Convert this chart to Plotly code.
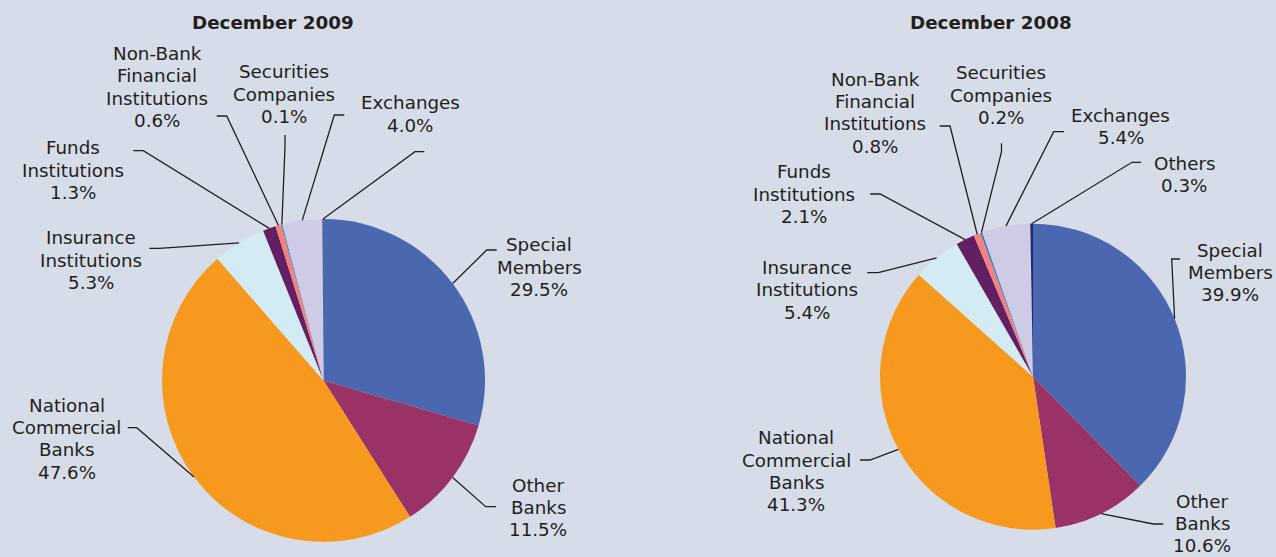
import math
import plotly.graph_objects as go

W, H = 1276, 557

# Holder categories, in clockwise order from 12 o'clock
categories = [
    "Special Members",
    "Other Banks",
    "National Commercial Banks",
    "Insurance Institutions",
    "Funds Institutions",
    "Non-Bank Financial Institutions",
    "Securities Companies",
    "Exchanges",
    "Others",
]
share_2009 = [29.5, 11.5, 47.6, 5.3, 1.3, 0.6, 0.1, 4.0, 0.1]
share_2008 = [39.9, 10.6, 41.3, 5.4, 2.1, 0.8, 0.2, 5.4, 0.3]
titles = ["December 2009", "December 2008"]

# How each category name is broken over lines
label_lines = [
    ["Special", "Members"],
    ["Other", "Banks"],
    ["National", "Commercial", "Banks"],
    ["Insurance", "Institutions"],
    ["Funds", "Institutions"],
    ["Non-Bank", "Financial", "Institutions"],
    ["Securities", "Companies"],
    ["Exchanges"],
    ["Others"],
]
show_label_2009 = [True, True, True, True, True, True, True, True, False]
show_label_2008 = [True] * 9

colors = ["#4a67b0", "#993366", "#f7991f", "#d3ecf3", "#621f62",
          "#f3827f", "#2b7bc8", "#cecbe7", "#1f2b6c"]

BG = "#d7dce9"
INK = "#231f20"
FONT = "DejaVu Sans"
FS = 18.3
LINE_GAP = 22.4

# Pie placement (pixel centre and radius)
pies = [
    dict(cx=323.5, cy=380.5, r=161.5, values=share_2009, show=show_label_2009,
         title_x=273.0),
    dict(cx=1033.0, cy=376.7, r=153.0, values=share_2008, show=show_label_2008,
         title_x=990.5),
]

# Label layout per pie: text centre x, first-line y, tick end, knee of leader
layouts = [
    [
        (539, 245.0, (496.7, 250.0), (486.7, 250.0)),
        (538, 485.0, (496.0, 506.7), (485.7, 506.7)),
        (66.7, 405.0, (127.7, 427.7), (136.7, 427.7)),
        (91, 237.7, (149.3, 248.3), (159.3, 248.3)),
        (73, 147.7, (133.3, 150.7), (143.3, 150.7)),
        (157, 53.3, (216.7, 116.0), (226.7, 116.0)),
        (284, 71.7, (285.0, 135.0), (285.0, 146.7)),
        (410, 102.7, (344.3, 115.0), (334.3, 115.0)),
        (None, None, (424.3, 151.7), (415.0, 151.7)),
    ],
    [
        (1230, 250.0, (1180.0, 259.0), (1171.7, 259.0)),
        (1202, 501.0, (1163.3, 524.0), (1153.3, 524.0)),
        (796, 437.7, (860.0, 460.0), (870.0, 460.0)),
        (807, 267.3, (867.3, 272.7), (878.3, 272.7)),
        (804, 171.7, (870.2, 194.0), (880.1, 194.0)),
        (875, 79.0, (939.7, 126.0), (950.0, 126.0)),
        (1001, 72.7, (1001.5, 143.3), (1001.5, 151.7)),
        (1120.6, 115.0, (1064.0, 131.7), (1053.7, 131.7)),
        (1184, 163.3, (1141.2, 162.3), (1132.0, 162.3)),
    ],
]


def px(x):
    return x / W


def py(y):
    return 1 - y / H


fig = go.Figure()
annotations = []
shapes = []

for p, layout, title in zip(pies, layouts, titles):
    cx, cy, r = p["cx"], p["cy"], p["r"]
    vals = p["values"]
    fig.add_trace(go.Pie(
        labels=categories,
        values=vals,
        sort=False,
        direction="clockwise",
        rotation=0,
        textinfo="none",
        hoverinfo="label+value",
        marker=dict(colors=colors, line=dict(width=0)),
        domain=dict(x=[px(cx - r), px(cx + r)], y=[py(cy + r), py(cy - r)]),
        showlegend=False,
    ))

    annotations.append(dict(
        x=px(p["title_x"]), y=py(22.7), xref="paper", yref="paper",
        text=f"<b>{title}</b>", showarrow=False, xanchor="center", yanchor="middle",
        font=dict(family=FONT, size=18.3, color=INK),
    ))

    total = sum(vals)
    cum = 0.0
    for i, v in enumerate(vals):
        mid = (cum + v / 2) / total
        cum += v
        ang = 2 * math.pi * mid
        ex = cx + r * math.sin(ang)
        ey = cy - r * math.cos(ang)
        tx, ty0, tick, knee = layout[i]
        path = f"M {px(tick[0])},{py(tick[1])} L {px(knee[0])},{py(knee[1])} L {px(ex)},{py(ey)}"
        shapes.append(dict(type="path", path=path, xref="paper", yref="paper",
                           line=dict(color=INK, width=1.3)))
        if p["show"][i] and tx is not None:
            lines = label_lines[i] + [f"{v:.1f}%"]
            for k, t in enumerate(lines):
                annotations.append(dict(
                    x=px(tx), y=py(ty0 + k * LINE_GAP), xref="paper", yref="paper",
                    text=t, showarrow=False, xanchor="center", yanchor="middle",
                    font=dict(family=FONT, size=FS, color=INK),
                ))

fig.update_layout(
    width=W, height=H,
    margin=dict(l=0, r=0, t=0, b=0),
    paper_bgcolor=BG, plot_bgcolor=BG,
    annotations=annotations,
    shapes=shapes,
)

fig.write_html("out.html")
